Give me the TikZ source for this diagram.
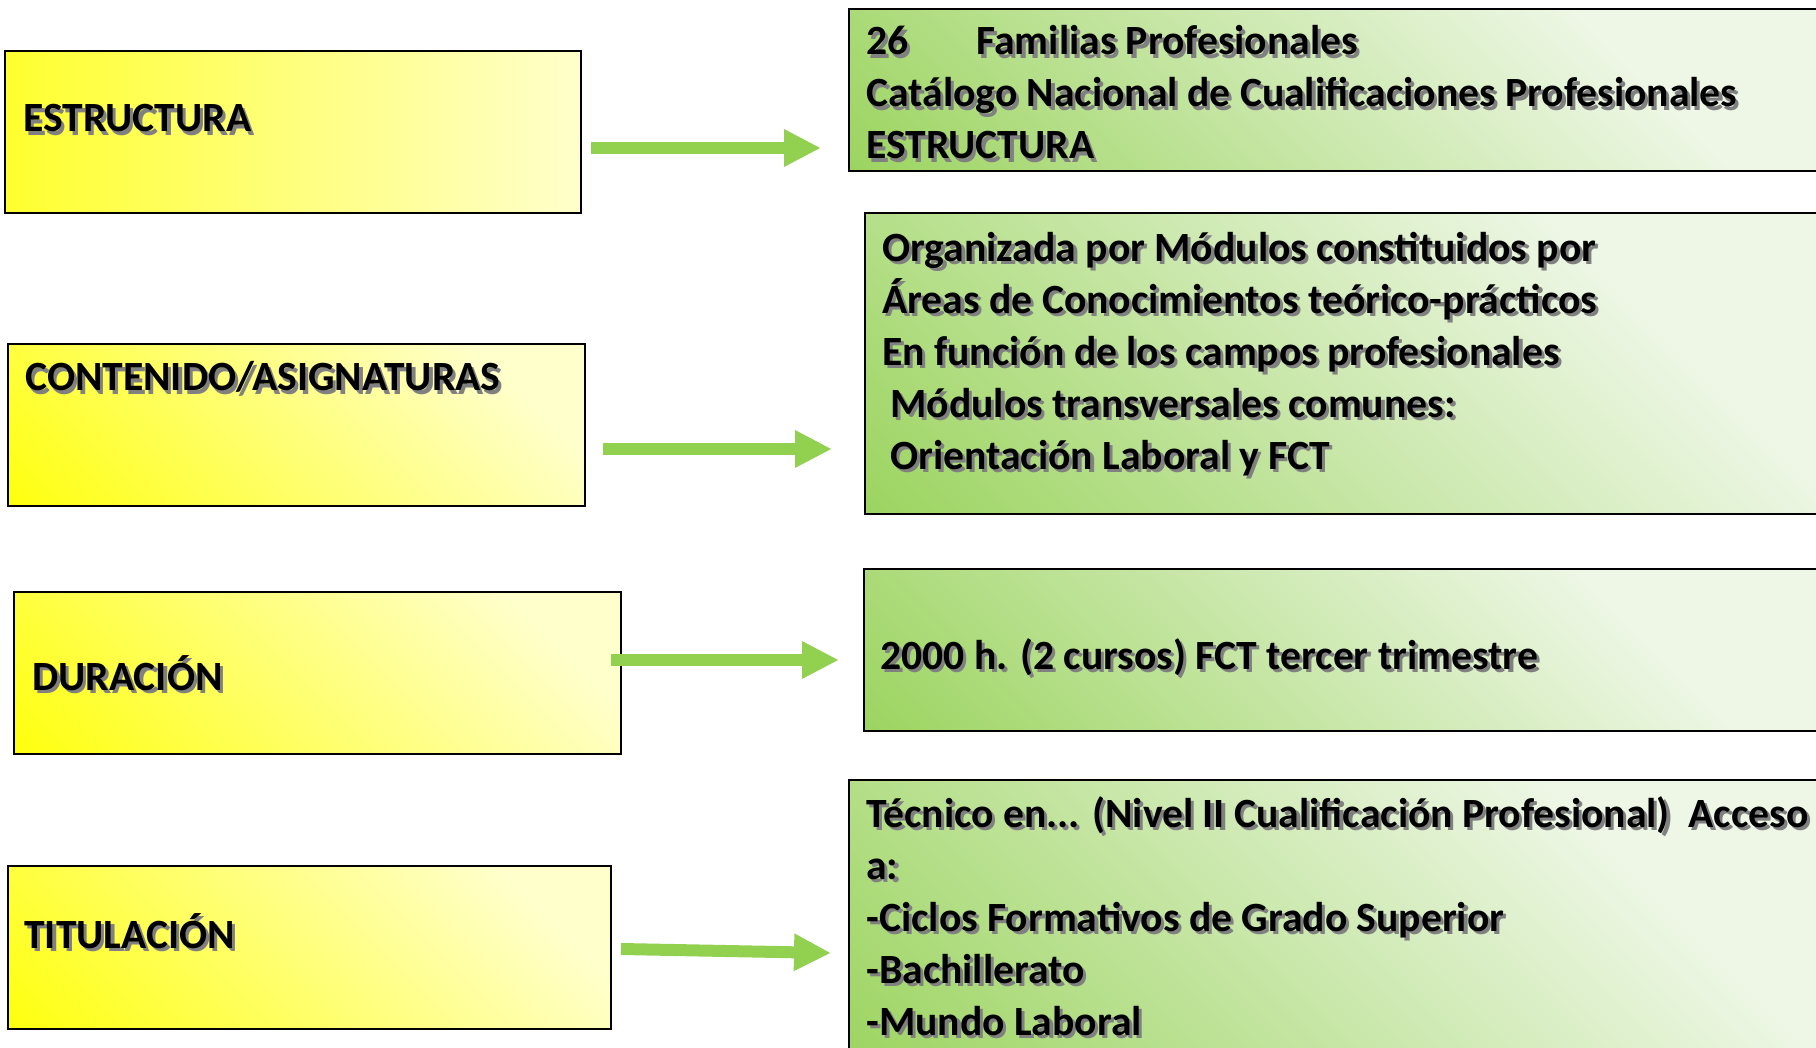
\documentclass[tikz,border=0pt]{standalone}
\usepackage{fontspec}
\setmainfont{Carlito}
\usetikzlibrary{arrows.meta,fit}
\definecolor{ylw}{HTML}{FFFF00}
\definecolor{pale}{HTML}{FFFFCC}
\definecolor{grn}{HTML}{92D050}
\definecolor{lgrn}{HTML}{EEF7E6}
\definecolor{shd}{HTML}{808080}
\pgfdeclarehorizontalshading{gshade}{100bp}{color(0bp)=(grn); color(8bp)=(grn); color(70bp)=(lgrn); color(100bp)=(lgrn)}
\pgfdeclarehorizontalshading{yshade}{100bp}{color(0bp)=(ylw); color(10bp)=(ylw); color(75bp)=(pale); color(100bp)=(pale)}
\newcommand\sh[1]{\rlap{\kern1.6pt\raisebox{-1.6pt}{\textcolor{shd}{#1}}}#1}
\begin{document}
\begin{tikzpicture}[x=0.5pt,y=-0.5pt,
  lbox/.style={draw=black, line width=1pt, inner sep=0pt, shading=yshade, shading angle=45},
  gbox/.style={draw=black, line width=1pt, inner sep=0pt, shading=gshade, shading angle=45},
  txt/.style={anchor=base west, inner sep=0pt, align=left, font=\fontsize{20.8pt}{26pt}\selectfont\bfseries},
  arr/.style={draw=grn, line width=6pt, -{Triangle[length=18.5pt,width=17.5pt]}}]
\useasboundingbox (0,0) rectangle (1816,1048);
\clip (0,0) rectangle (1816,1048);
% left boxes
\node[lbox, shading angle=0, fit={(4.6,51)(581,213)}] (L1) {};
\node[lbox, fit={(8,344)(585,506)}] (L2) {};
\node[lbox, fit={(14,592)(621,754)}] (L3) {};
\node[lbox, fit={(8,866)(611,1029)}] (L4) {};
% right boxes
\node[gbox, fit={(849,9)(1830,171)}] (R1) {};
\node[gbox, fit={(865,213)(1830,514)}] (R2) {};
\node[gbox, fit={(864,569)(1830,731)}] (R3) {};
\node[gbox, fit={(849,780)(1830,1070)}] (R4) {};
% texts (base = baseline of last line)
\node[txt] (tL1) at (23,132) {\sh{ESTRUCTURA}};
\node[txt] (tL2) at (25,391) {\sh{CONTENIDO/ASIGNATURAS}};
\node[txt] (tL3) at (32,690) {\sh{DURACIÓN}};
\node[txt] (tL4) at (24,948) {\sh{TITULACIÓN}};
\node[txt] (tR1) at (866,159) {\sh{\makebox[55pt][l]{26}Familias Profesionales}\\
  \sh{Catálogo Nacional de Cualificaciones Profesionales}\\
  \sh{ESTRUCTURA}};
\node[txt] (tR2) at (882,469) {\sh{Organizada por Módulos constituidos por}\\
  \sh{Áreas de Conocimientos teórico-prácticos}\\
  \sh{En función de los campos profesionales}\\
  \sh{\hspace{4pt}Módulos transversales comunes:}\\
  \sh{\hspace{4pt}Orientación Laboral y FCT}};
\node[txt] (tR3) at (880,669) {\sh{2000 h. (2 cursos) FCT tercer trimestre}};
\node[txt] (tR4) at (866,1035) {\sh{Técnico en... (Nivel II Cualificación Profesional)\ \ Acceso}\\
  \sh{a:}\\
  \sh{-Ciclos Formativos de Grado Superior}\\
  \sh{-Bachillerato}\\
  \sh{-Mundo Laboral}};
% arrows
\coordinate (a1s) at (591,148); \coordinate (a1e) at (821,148);
\coordinate (a2s) at (603,449); \coordinate (a2e) at (832,449);
\coordinate (a3s) at (611,660); \coordinate (a3e) at (839,660);
\coordinate (a4s) at (621,949); \coordinate (a4e) at (831,953);
\draw[arr] (a1s) -- (a1e);
\draw[arr] (a2s) -- (a2e);
\draw[arr] (a3s) -- (a3e);
\draw[arr] (a4s) -- (a4e);
\end{tikzpicture}
\end{document}
